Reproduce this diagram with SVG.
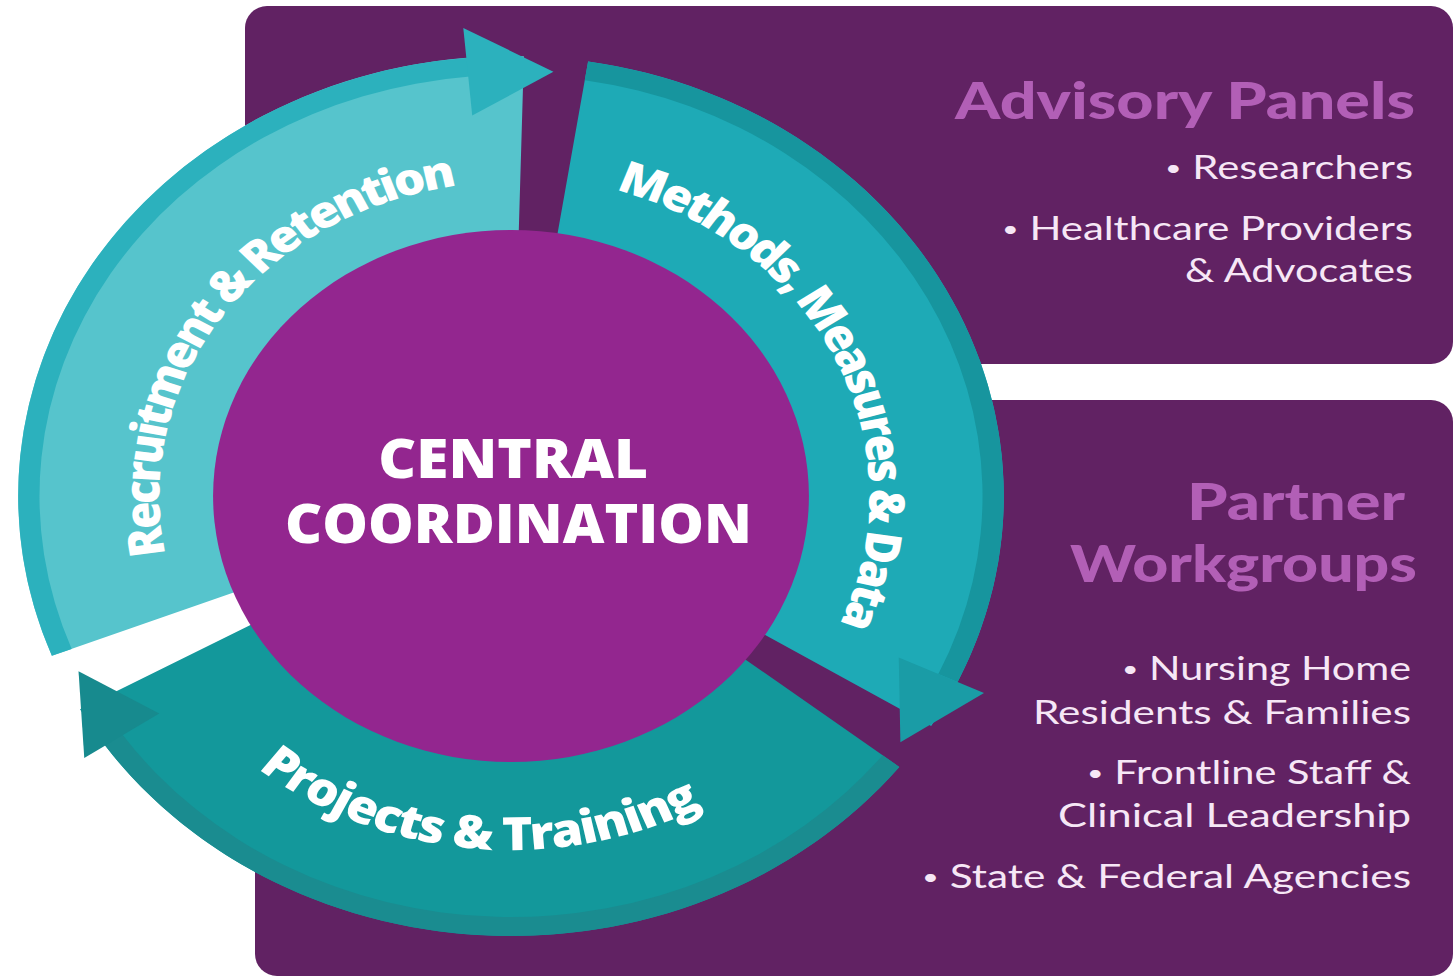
<svg xmlns="http://www.w3.org/2000/svg" width="1455" height="980" viewBox="0 0 1455 980">
  <defs>
    <style>
      .panel { fill: #612263; }
      .head { font-family: "Lato", "Open Sans", "Liberation Sans", sans-serif; font-weight: 900; fill: #b25fb6; text-anchor: end; }
      .item { font-family: "Lato", "Open Sans", "Liberation Sans", sans-serif; font-weight: 400; fill: #f6e7f6; text-anchor: end; font-size: 32px; }
      .dot { font-size: 22px; baseline-shift: 3px; }
      .ring-label { font-family: "Open Sans", "Lato", "Liberation Sans", sans-serif; font-weight: 800; fill: #ffffff; }
      .core-label { font-family: "Open Sans", "Lato", "Liberation Sans", sans-serif; font-weight: 800; fill: #ffffff; text-anchor: middle; font-size: 54px; }
    </style>
    <!-- baselines for the curved ring labels (ring coordinates, centre at 0,0) -->
    <path id="arc-recruit" d="M -157 271.93 A 314 314 0 1 1 201.84 -240.54"/>
    <path id="arc-methods" d="M -160 -277.13 A 320 320 0 1 1 109.45 300.70"/>
    <path id="arc-projects" d="M -348.07 -64.51 A 354 354 0 1 0 353.99 3.09"/>
  </defs>

  <rect width="1455" height="980" fill="#ffffff"/>

  <!-- side panels -->
  <g id="panel-advisory">
    <rect class="panel" x="245" y="6" width="1208" height="358" rx="22"/>
    <text class="head" x="1415" y="119" font-size="51" textLength="460" lengthAdjust="spacingAndGlyphs">Advisory Panels</text>
    <text class="item" x="1413" y="179" textLength="248" lengthAdjust="spacingAndGlyphs"><tspan class="dot">•</tspan> Researchers</text>
    <text class="item" x="1413" y="240" textLength="411" lengthAdjust="spacingAndGlyphs"><tspan class="dot">•</tspan> Healthcare Providers</text>
    <text class="item" x="1413" y="282" textLength="228" lengthAdjust="spacingAndGlyphs">&amp; Advocates</text>
  </g>

  <g id="panel-partner">
    <rect class="panel" x="255" y="400" width="1198" height="576" rx="22"/>
    <text class="head" x="1405" y="520" font-size="52" textLength="218" lengthAdjust="spacingAndGlyphs">Partner</text>
    <text class="head" x="1417" y="582" font-size="52" textLength="347" lengthAdjust="spacingAndGlyphs">Workgroups</text>
    <text class="item" x="1411" y="680" textLength="289" lengthAdjust="spacingAndGlyphs"><tspan class="dot">•</tspan> Nursing Home</text>
    <text class="item" x="1411" y="724" textLength="378" lengthAdjust="spacingAndGlyphs">Residents &amp; Families</text>
    <text class="item" x="1411" y="784" textLength="324" lengthAdjust="spacingAndGlyphs"><tspan class="dot">•</tspan> Frontline Staff &amp;</text>
    <text class="item" x="1411" y="827" textLength="353" lengthAdjust="spacingAndGlyphs">Clinical Leadership</text>
    <text class="item" x="1411" y="888" textLength="489" lengthAdjust="spacingAndGlyphs"><tspan class="dot">•</tspan> State &amp; Federal Agencies</text>
  </g>

  <!-- cycle: drawn on a circle, widened horizontally -->
  <g transform="translate(511 496) scale(1.12 1)">
    <g id="seg-recruitment">
      <path fill="#56c4cc" d="M -409.94 159.83 A 440 440 0 0 1 11.52 -439.85 L 6.54 -249.91 A 250 250 0 0 0 -232.92 90.81 Z"/>
    </g>
    <g id="seg-methods">
      <path fill="#1eaab6" d="M 68.83 -434.58 A 440 440 0 0 1 375.16 229.90 L 213.16 130.62 A 250 250 0 0 0 39.11 -246.92 Z"/>
    </g>
    <g id="seg-projects">
      <path fill="#13989b" d="M 346.72 270.89 A 440 440 0 0 1 -384.83 213.32 L -218.66 121.20 A 250 250 0 0 0 197.0 153.92 Z"/>
    </g>

    <!-- outer rims ending in arrowheads -->
    <g id="connectors">
      <path fill="#2cb1bd" d="M -409.94 159.83 A 440 440 0 0 1 -38.35 -438.33 L -36.69 -419.40 A 421 421 0 0 0 -392.24 152.93 Z"/>
      <polygon fill="#2cb1bd" points="-34.62,-380.43 -42.60,-468.07 37.87,-424.31"/>
      <path fill="#17959e" d="M 68.83 -434.58 A 440 440 0 0 1 398.78 185.95 L 381.56 177.92 A 421 421 0 0 0 65.86 -415.82 Z"/>
      <polygon fill="#1a9ca6" points="346.21,161.44 422.34,196.94 347.67,246.17"/>
      <path fill="#1a8c90" d="M 346.72 270.89 A 440 440 0 0 1 -362.62 249.22 L -346.96 238.46 A 421 421 0 0 0 331.75 259.19 Z"/>
      <polygon fill="#178a8e" points="-314.06,217.46 -381,262 -386.13,175.16"/>
    </g>

    <g id="central">
      <circle r="266" fill="#93268f"/>
      <text class="core-label" x="2" y="-18" textLength="241" lengthAdjust="spacingAndGlyphs">CENTRAL</text>
      <text class="core-label" x="6.7" y="47" textLength="417" lengthAdjust="spacingAndGlyphs">COORDINATION</text>
    </g>

    <g id="ring-labels">
      <text class="ring-label" font-size="44" letter-spacing="-3"><textPath href="#arc-recruit" startOffset="50%" text-anchor="middle">Recruitment &amp; Retention</textPath></text>
      <text class="ring-label" font-size="44" letter-spacing="-3"><textPath href="#arc-methods" startOffset="50%" text-anchor="middle">Methods, Measures &amp; Data</textPath></text>
      <text class="ring-label" font-size="46" letter-spacing="-1.5"><textPath href="#arc-projects" startOffset="50%" text-anchor="middle">Projects &amp; Training</textPath></text>
    </g>
  </g>
</svg>
